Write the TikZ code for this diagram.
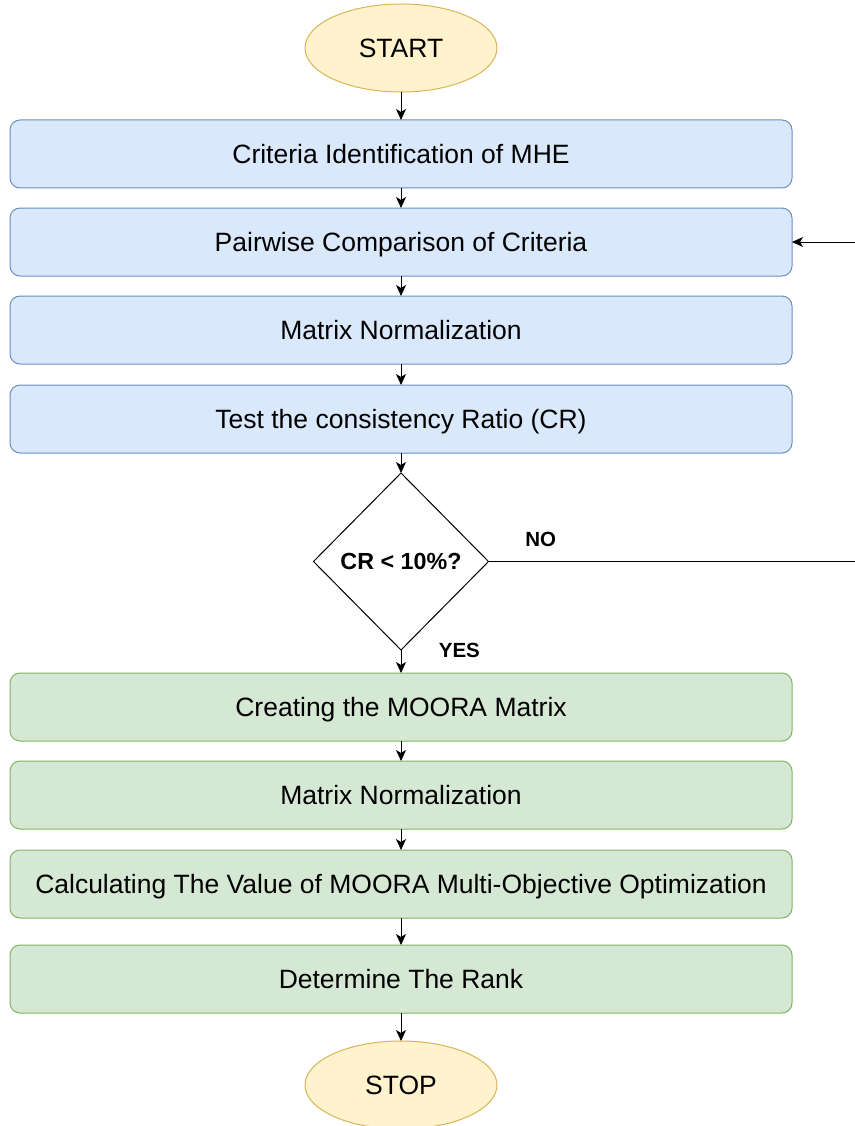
\documentclass[tikz,border=0pt]{standalone}
\usepackage{fontspec}
\setmainfont{Liberation Sans}
\usetikzlibrary{arrows.meta,positioning,shapes.geometric}
\definecolor{termFill}{HTML}{FFF2CC}
\definecolor{termDraw}{HTML}{D6B656}
\definecolor{ahpFill}{HTML}{DAE8FC}
\definecolor{ahpDraw}{HTML}{6C8EBF}
\definecolor{mooraFill}{HTML}{D5E8D4}
\definecolor{mooraDraw}{HTML}{82B366}
\tikzset{
    %Define standard arrow tip
    >={Stealth[length=11pt,width=10pt,inset=3pt]},
    %Define style for start and stop
    termnode/.style={
             ellipse,
             draw=termDraw, fill=termFill, line width=1pt, outer sep=0pt,
             minimum width=192pt, minimum height=88pt,
             text height=19pt, text depth=0pt,
             font=\fontsize{26.5}{31}\selectfont},
    %Define style for boxes
    ahpnode/.style={
             rectangle, rounded corners=10pt,
             draw=ahpDraw, fill=ahpFill, line width=1pt, outer sep=0pt,
             minimum width=782pt, minimum height=68pt,
             text height=19pt, text depth=0pt,
             font=\fontsize{26.5}{31}\selectfont},
    mooranode/.style={
             ahpnode,
             draw=mooraDraw, fill=mooraFill},
    decnode/.style={
             diamond, aspect=1,
             draw=black, fill=white, line width=1pt, outer sep=0pt,
             minimum width=175pt, minimum height=177pt, inner sep=0pt,
             text height=16.8pt, text depth=0pt,
             font=\bfseries\fontsize{23.3}{27}\selectfont},
    % Define arrow style
    flowarrow/.style={
            ->,
            line width=1pt},
    flowlabel/.style={
            font=\bfseries\fontsize{20.5}{24}\selectfont}
}
\begin{document}
\begin{tikzpicture}[x=1pt, y=-1pt, node distance=20pt]
    \useasboundingbox (0,0) rectangle (854,1126);
    \node[termnode] (start) at (401,48) {START};
    \node[ahpnode, below=28pt of start] (criteria) {Criteria Identification of MHE};
    \node[ahpnode, below=of criteria] (pairwise) {Pairwise Comparison of Criteria};
    \node[ahpnode, below=of pairwise] (ahpnorm) {Matrix Normalization};
    \node[ahpnode, below=21pt of ahpnorm] (ratio) {Test the consistency Ratio (CR)};
    \node[decnode, below=of ratio] (check) {CR < 10\%?};
    \node[mooranode, below=23pt of check] (creating) {Creating the MOORA Matrix};
    \node[mooranode, below=of creating] (mooranorm) {Matrix Normalization};
    \node[mooranode, below=21pt of mooranorm] (value) {Calculating The Value of MOORA Multi-Objective Optimization};
    \node[mooranode, below=27pt of value] (rank) {Determine The Rank};
    \node[termnode, below=28pt of rank] (stop) {STOP};
    \coordinate (loop) at (862,562);
    \draw[flowarrow] (start) -- (criteria);
    \draw[flowarrow] (criteria) -- (pairwise);
    \draw[flowarrow] (pairwise) -- (ahpnorm);
    \draw[flowarrow] (ahpnorm) -- (ratio);
    \draw[flowarrow] (ratio) -- (check);
    \draw[flowarrow] (check) -- node[flowlabel, pos=0, right=34pt] {YES} (creating);
    \draw[flowarrow] (creating) -- (mooranorm);
    \draw[flowarrow] (mooranorm) -- (value);
    \draw[flowarrow] (value) -- (rank);
    \draw[flowarrow] (rank) -- (stop);
    \draw[flowarrow] (check.east) -- node[flowlabel, pos=0.14, above=11pt] {NO} (loop |- check.east) |- (pairwise.east);
\end{tikzpicture}
\end{document}
